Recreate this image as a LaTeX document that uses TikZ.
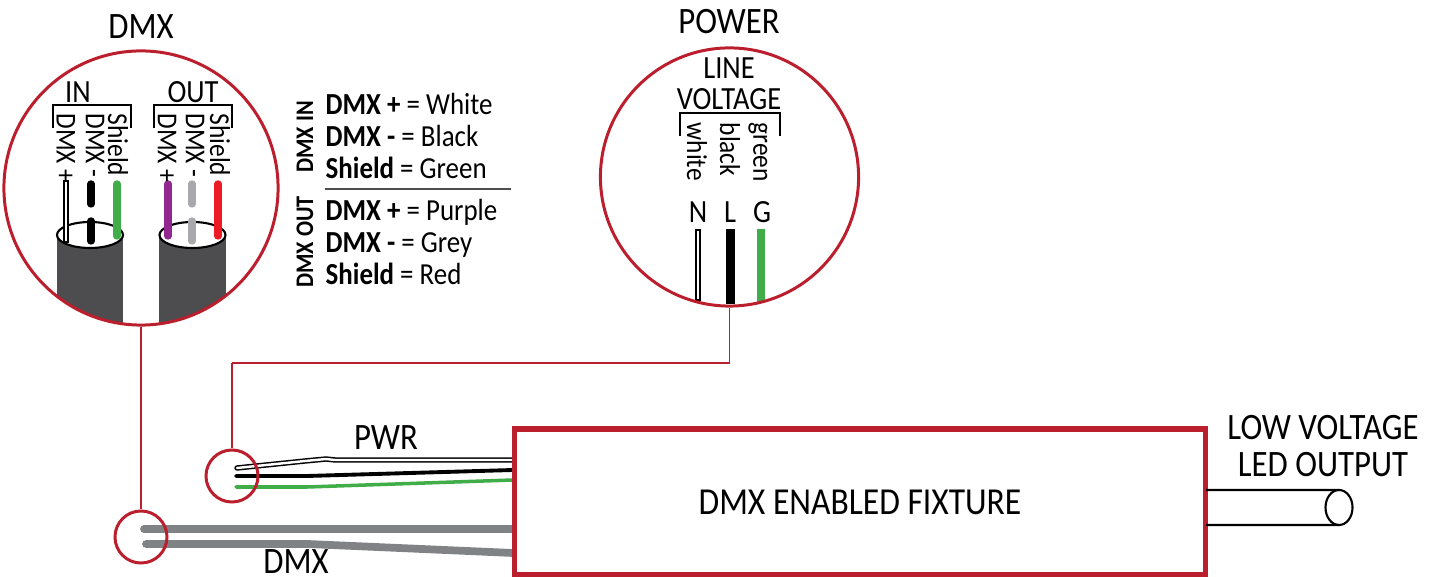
\documentclass[tikz,border=0pt]{standalone}
\usepackage{fontspec}
\setmainfont[FakeStretch=0.88]{Carlito}
\usetikzlibrary{positioning,calc,shapes.geometric}
\definecolor{lensred}{HTML}{BB1E2C}
\definecolor{cablegrey}{HTML}{4D4D4F}
\definecolor{trunkgrey}{HTML}{808285}
\definecolor{wiregreen}{HTML}{41AD49}
\definecolor{wirepurple}{HTML}{92278F}
\definecolor{wiregrey}{HTML}{A7A9AC}
\definecolor{wirered}{HTML}{ED1C24}
\tikzset{
	biglabel/.style={inner sep=0pt,font=\fontsize{10.6}{12}\selectfont},
	midlabel/.style={inner sep=0pt,font=\fontsize{9.2}{11}\selectfont},
	sidelabel/.style={inner sep=0pt,rotate=-90,anchor=west,font=\fontsize{8.2}{10}\selectfont},
	legendline/.style={inner sep=0pt,anchor=west,text height=6.2pt,text depth=1.6pt,font=\fontsize{8.7}{11}\selectfont},
	legendside/.style={inner sep=0pt,rotate=90,font=\fontsize{7.2}{9}\bfseries\selectfont},
	lens/.style={circle,draw=lensred,line width=0.85pt,inner sep=0pt},
	lead/.style={draw=lensred,line width=0.3pt},
	bracket/.style={draw=black,line width=0.55pt},
	whitewire/.style={draw=black,line width=0.42pt,line cap=rect,double=white,double distance=0.7pt},
	roundwire/.style={line width=2.1pt,line cap=round}
}
\begin{document}
\begin{tikzpicture}[x=0.01cm,y=-0.01cm]
	\useasboundingbox (0,0) rectangle (1437,577);

	% cables inside the DMX lens
	\begin{scope}
		\clip (141,188) circle [radius=137];
		\fill[cablegrey] (57,235) rectangle (123,330);
		\fill[cablegrey] (159,235) rectangle (226,330);
	\end{scope}
	\draw[black,line width=0.6pt,fill=white] (90,235) ellipse [x radius=33,y radius=13];
	\draw[black,line width=0.6pt,fill=white] (192.5,235) ellipse [x radius=33,y radius=13];

	\draw[whitewire] (66,183) -- (66,240);
	\foreach \wx/\wcol in {91/black,192/wiregrey} {
		\draw[roundwire,\wcol] (\wx,184) -- (\wx,204);
		\draw[roundwire,\wcol] (\wx,221) -- (\wx,241);
	}
	\foreach \wx/\wcol in {117/wiregreen,168/wirepurple,218/wirered}
		\draw[roundwire,\wcol] (\wx,184) -- (\wx,236);

	\node[lens,minimum size=2.74cm] (dmxlens) at (141,188) {};
	\node[biglabel] (dmxtitle) at (141,27) {DMX};
	\node[midlabel] (inlabel) at (78,92) {IN};
	\node[midlabel] (outlabel) at (193,92) {OUT};
	\draw[bracket] (53,128) -- (53,105) -- (131,105) -- (131,128);
	\draw[bracket] (154,128) -- (154,105) -- (232,105) -- (232,128);

	\node[sidelabel] (inplus) at (66,113) {DMX +};
	\node[sidelabel] (inminus) at (95,113) {DMX -};
	\node[sidelabel] (inshield) at (118,113) {Shield};
	\node[sidelabel] (outplus) at (167,113) {DMX +};
	\node[sidelabel] (outminus) at (195,113) {DMX -};
	\node[sidelabel] (outshield) at (220,113) {Shield};

	% colour legend
	\node[legendline] (keyone) at (325,106.5) {\textbf{DMX +} = White};
	\node[legendline,below=0.32cm of keyone.west,anchor=west] (keytwo) {\textbf{DMX -} = Black};
	\node[legendline,below=0.32cm of keytwo.west,anchor=west] (keythree) {\textbf{Shield} = Green};
	\node[legendline] (keyfour) at (325,212.5) {\textbf{DMX +} = Purple};
	\node[legendline,below=0.32cm of keyfour.west,anchor=west] (keyfive) {\textbf{DMX -} = Grey};
	\node[legendline,below=0.32cm of keyfive.west,anchor=west] (keysix) {\textbf{Shield} = Red};
	\node[legendside] (keyin) at (305,137) {DMX IN};
	\node[legendside] (keyout) at (305,242) {DMX OUT};
	\coordinate (ruleleft) at (325,189);
	\coordinate (ruleright) at (511,189);
	\draw[cablegrey,line width=0.4pt] (ruleleft) -- (ruleright);

	% power lens
	\draw[whitewire] (698,232) -- (698,298);
	\draw[black,line width=2.3pt] (730.5,229) -- (730.5,304);
	\draw[wiregreen,line width=2pt] (761,229) -- (761,302);
	\node[lens,minimum size=2.58cm] (powerlens) at (729.5,177) {};
	\node[biglabel] (powertitle) at (729,22) {POWER};
	\node[midlabel] (lineone) at (729,68) {LINE};
	\node[midlabel] (linetwo) at (729,99) {VOLTAGE};
	\draw[bracket] (680,136) -- (680,113) -- (780,113) -- (780,136);
	\node[sidelabel] (pwhite) at (697,122) {white};
	\node[sidelabel] (pblack) at (730,122) {black};
	\node[sidelabel] (pgreen) at (758,122) {green};
	\node[midlabel] (pn) at (698,212) {N};
	\node[midlabel] (pl) at (730,212) {L};
	\node[midlabel] (pg) at (762,212) {G};

	% wires going into the fixture
	\draw[whitewire,line cap=round] (237,468) -- (305,461) -- (326,459) -- (335,460) -- (513,460);
	\draw[black,line width=1.1pt,line cap=round] (236,476) -- (307,476) -- (513,470);
	\draw[wiregreen,line width=1pt,line cap=round] (236,487) -- (307,487) -- (513,480);
	\draw[trunkgrey,line width=2.2pt,line cap=round] (144,529) -- (513,529);
	\draw[trunkgrey,line width=2.2pt,line cap=round] (146,544) -- (308,544) -- (513,553);

	\node[lens,minimum size=0.52cm] (pwrdot) at (232,476) {};
	\node[lens,minimum size=0.52cm] (dmxdot) at (141,537) {};
	\node[biglabel] (pwrlabel) at (386,438) {PWR};
	\node[biglabel] (dmxlabel) at (296,562) {DMX};

	\node[rectangle,draw=lensred,line width=1.45pt,minimum width=6.9cm,minimum height=1.46cm,biglabel,font=\fontsize{10.85}{12}\selectfont] (fixture) at (860,502) {\raisebox{-0.3pt}{DMX ENABLED FIXTURE}};

	% low voltage output
	\node[ellipse,draw=black,line width=0.6pt,inner sep=0pt,outer sep=0pt,minimum width=0.27cm,minimum height=0.35cm] (ledend) at (1339,507.5) {};
	\coordinate (ledtop) at (1206,490);
	\coordinate (ledbottom) at (1206,525);
	\draw[black,line width=0.6pt] (ledtop) -- (ledend.north);
	\draw[black,line width=0.6pt] (ledbottom) -- (ledend.south);
	\node[biglabel] (ledone) at (1323,428) {LOW VOLTAGE};
	\node[biglabel] (ledtwo) at (1323,465) {LED OUTPUT};

	% red leads from the lenses
	\coordinate (elbow) at (232,363);
	\path[lead]
	(dmxlens.south) edge (dmxdot.north)
	(powerlens.south) edge (powerlens.south |- elbow)
	(powerlens.south |- elbow) edge (elbow)
	(elbow) edge (pwrdot.north);
\end{tikzpicture}
\end{document}
